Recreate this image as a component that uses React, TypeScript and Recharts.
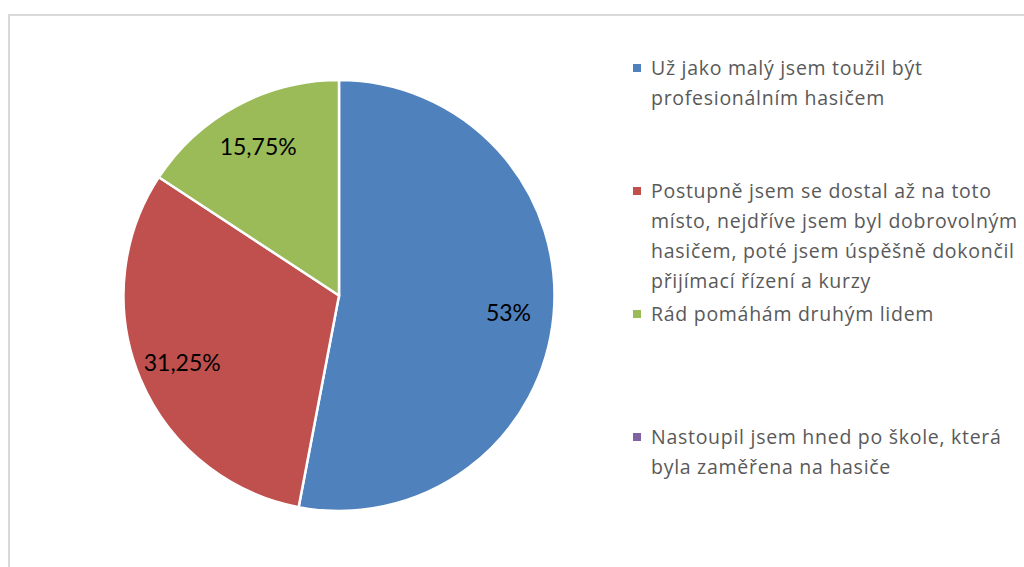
import { Cell, Legend, Pie, PieChart } from 'recharts'

const names = [
  'Už jako malý jsem toužil být\nprofesionálním hasičem',
  'Postupně jsem se dostal až na toto\nmísto, nejdříve jsem byl dobrovolným\nhasičem, poté jsem úspěšně dokončil\npřijímací řízení a kurzy',
  'Rád pomáhám druhým lidem',
  'Nastoupil jsem hned po škole, která\nbyla zaměřena na hasiče',
]
const values = [53, 31.25, 15.75, 0]
const labels = ['53%', '31,25%', '15,75%', '']
const colors = ['#4F81BD', '#C0504D', '#9BBB59', '#8064A2']

const data = names.map((name, i) => ({ name, value: values[i], label: labels[i] }))

const RAD = Math.PI / 180

const renderLabel = (props: any) => {
  const { cx, cy, midAngle, outerRadius, index } = props
  const text = labels[index]
  if (!text) return null
  const r = outerRadius * 0.79
  const x = cx + r * Math.cos(-midAngle * RAD)
  const y = cy + r * Math.sin(-midAngle * RAD)
  return (
    <text
      x={x}
      y={y}
      fill="#000"
      fontSize={23}
      fontFamily="Lato, sans-serif"
      textAnchor="middle"
      dominantBaseline="central"
    >
      {text}
    </text>
  )
}

const renderLegend = () => (
  <div
    style={{
      fontFamily: '"Open Sans", sans-serif',
      fontSize: 19.5,
      letterSpacing: 0.72,
      color: '#595959',
    }}
  >
    {data.map((d, i) => (
      <div key={i} style={{ position: 'relative', height: 123, paddingLeft: 18 }}>
        <span
          style={{
            position: 'absolute',
            left: 0,
            top: 11,
            width: 8,
            height: 8,
            background: colors[i],
          }}
        />
        <div style={{ whiteSpace: 'pre-line', lineHeight: '30px' }}>{d.name}</div>
      </div>
    ))}
  </div>
)

export default function App() {
  return (
    <div style={{ position: 'fixed', left: 0, top: 0, width: 1024, height: 567, background: '#fff' }}>
      <div
        style={{
          position: 'absolute',
          left: 8,
          top: 14,
          width: 1030,
          height: 570,
          borderTop: '2px solid #d9d9d9',
          borderLeft: '2px solid #d9d9d9',
        }}
      />
      <PieChart
        width={1024}
        height={567}
        margin={{ top: 0, right: 0, bottom: 0, left: 0 }}
        style={{ position: 'absolute', left: 0, top: 0 }}
      >
        <Pie
          data={data}
          dataKey="value"
          nameKey="name"
          cx={339}
          cy={295.5}
          outerRadius={215.5}
          startAngle={90}
          endAngle={-270}
          stroke="#fff"
          strokeWidth={2.5}
          label={renderLabel}
          labelLine={false}
          isAnimationActive={false}
        >
          {data.map((_, i) => (
            <Cell key={i} fill={colors[i]} />
          ))}
        </Pie>
        <Legend
          layout="vertical"
          content={renderLegend}
          wrapperStyle={{ left: 633, top: 53, width: 390, right: 'auto', bottom: 'auto' }}
        />
      </PieChart>
    </div>
  )
}
